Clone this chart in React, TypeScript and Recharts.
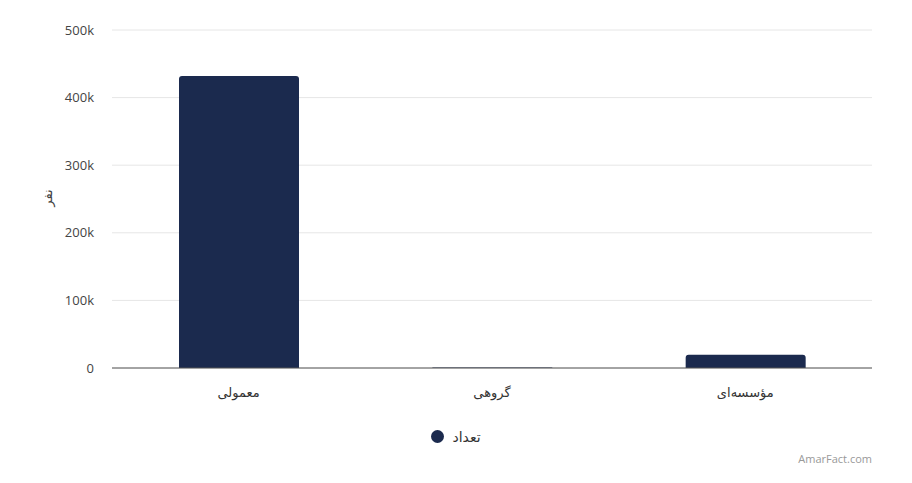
import React from "react";
import { BarChart, Bar, XAxis, YAxis, CartesianGrid, Legend } from "recharts";

const categories = ["معمولی", "گروهی", "مؤسسه‌ای"];
const counts = [432000, 800, 19500];
const yTicks = [0, 100000, 200000, 300000, 400000, 500000];
const seriesName = "تعداد";
const yLabel = "نفر";
const credit = "AmarFact.com";

const data = categories.map((c, i) => ({ name: c, value: counts[i] }));

const font = "'Open Sans', 'DejaVu Sans', sans-serif";
const navy = "#1b2a4e";

const fmt = (v: number) => (v === 0 ? "0" : `${v / 1000}k`);

function LegendContent() {
  return (
    <div style={{ display: "flex", justifyContent: "center", alignItems: "center", gap: 8, fontFamily: font, height: 20 }}>
      <span style={{ width: 13, height: 13, borderRadius: "50%", background: navy, display: "inline-block" }} />
      <span style={{ fontSize: 14, color: "#333", direction: "rtl" }}>{seriesName}</span>
    </div>
  );
}

export default function App() {
  return (
    <div style={{ position: "absolute", left: 0, top: 0, width: 912, height: 483, background: "#fff", fontFamily: font }}>
      <BarChart width={912} height={483} data={data} margin={{ top: 30, right: 40, bottom: 85, left: 0 }}>
        <CartesianGrid vertical={false} stroke="#e6e6e6" />
        <XAxis
          dataKey="name"
          axisLine={{ stroke: "#555" }}
          tickLine={false}
          tickSize={0}
          tickMargin={20}
          tick={{ fontSize: 13, fill: "#333", fontFamily: font }}
        />
        <YAxis
          width={112}
          domain={[0, 500000]}
          ticks={yTicks}
          tickFormatter={fmt}
          axisLine={false}
          tickLine={false}
          tickSize={0}
          tickMargin={18}
          tick={{ fontSize: 13, fill: "#444", fontFamily: font }}
          label={() => (
            <text
              x={47}
              y={198}
              transform="rotate(-90 47 198)"
              textAnchor="middle"
              dominantBaseline="central"
              fontSize={13}
              fill="#444"
              fontFamily={font}
            >
              {yLabel}
            </text>
          )}
        />
        <Legend
          content={<LegendContent />}
          wrapperStyle={{ left: 0, width: 912, top: 426, height: 0, overflow: "visible" }}
        />
        <Bar dataKey="value" name={seriesName} fill={navy} barSize={120} radius={[3, 3, 0, 0]} isAnimationActive={false} />
      </BarChart>
      <div style={{ position: "absolute", right: 40, top: 451, fontSize: 11, color: "#999", fontFamily: font }}>{credit}</div>
    </div>
  );
}
